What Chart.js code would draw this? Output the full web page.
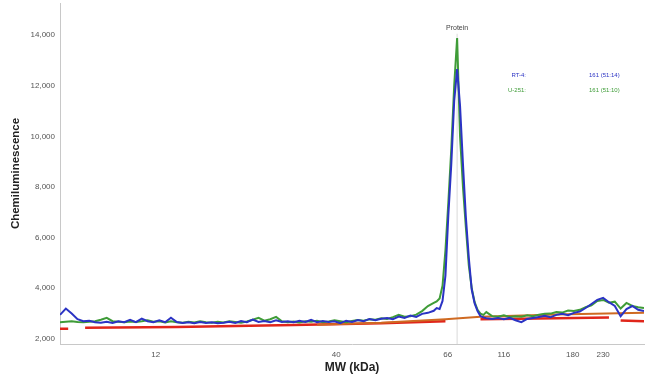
<!DOCTYPE html>
<html><head><meta charset="utf-8">
<script src="https://cdn.jsdelivr.net/npm/chart.js@4.4.1/dist/chart.umd.min.js"></script>
<style>html,body{margin:0;padding:0;background:#fff;}</style>
</head><body>
<canvas id="c" width="650" height="384"></canvas>
<script>
// ---- data ----
const tickPositions = [16.4, 47.3, 66.4, 76.0, 87.8, 93.0];
const tickLabels = ['12', '40', '66', '116', '180', '230'];
const yTicks = [2000, 4000, 6000, 8000, 10000, 12000, 14000];

const positions = [0,1,2,3,4,5,6,7,8,9,10,11,12,13,14,15,16,17,18,19,20,21,22,23,24,25,26,27,28,29,30,31,32,33,34,35,36,37,38,39,40,41,42,43,44,45,46,47,48,49,50,51,52,53,54,55,56,57,58,59,60,61,62,63,64,64.5,65,65.5,66,66.5,67,67.5,68,68.5,69,69.5,70,70.5,71,71.5,72,72.5,73,74,75,76,77,78,79,80,81,82,83,84,85,86,87,88,89,90,91,92,93,94,95,96,97,98,99,100];

const rt4 = [2950,3200,3000,2780,2700,2720,2660,2640,2680,2630,2700,2660,2750,2660,2800,2700,2660,2740,2660,2840,2670,2630,2660,2620,2670,2630,2660,2620,2640,2680,2630,2710,2660,2760,2670,2710,2660,2740,2670,2700,2660,2720,2670,2750,2660,2710,2670,2700,2620,2720,2670,2750,2700,2790,2740,2800,2830,2780,2880,2830,2920,2870,2990,3030,3110,3220,3180,3500,4500,6900,8900,11400,12650,11200,8900,6800,5200,3950,3400,3100,2900,2850,2820,2790,2830,2780,2830,2740,2660,2790,2830,2870,2910,2860,2950,2990,2940,3030,3080,3220,3380,3540,3620,3450,3300,2900,3180,3300,3150,3100];

const u251 = [2660,2680,2700,2670,2660,2680,2700,2760,2830,2700,2680,2660,2690,2670,2700,2740,2680,2700,2650,2700,2660,2640,2680,2650,2700,2660,2640,2680,2650,2700,2670,2640,2690,2760,2830,2720,2780,2870,2700,2660,2690,2650,2700,2680,2720,2660,2690,2740,2700,2660,2710,2750,2720,2780,2760,2820,2790,2860,2950,2880,2900,2960,3100,3300,3420,3480,3600,4100,5500,7400,9500,12000,13880,10000,8000,6400,4900,4000,3450,3150,3000,2950,3060,2900,2880,2930,2870,2900,2880,2930,2900,2960,2990,3000,3060,3040,3120,3100,3150,3250,3330,3500,3540,3430,3470,3200,3420,3300,3250,3220];

const baselineRedX = [0, 1.4, 1.5, 4.3, 20, 40, 55, 66, 66.1, 72, 85, 94, 94.1, 96, 100];
const baselineRedY = [2400, 2400, null, 2440, 2470, 2550, 2620, 2700, null, 2780, 2820, 2850, null, 2730, 2700];
const baselineOrangeX = [44, 55, 66, 72, 85, 100];
const baselineOrangeY = [2560, 2640, 2780, 2880, 2960, 3030];

const peakPosition = 68;
const peakLabel = 'Protein';
const legendNames = ['RT-4:', 'U-251:'];
const legendValues = ['161 (51:14)', '161 (51:10)'];

// ---- styles ----
const Y_MIN = 1800, Y_MAX = 15263;
const BLUE = '#2b33c4', GREEN = '#3f9c38', RED = '#e0261b', ORANGE = '#cf6a22';
const FONT = '"Liberation Sans", Arial, sans-serif';

const pts = (xs, ys) => xs.map((x, i) => ({x: x, y: ys[i]}));

const textPlugin = {
  id: 'texts',
  afterDatasetsDraw(chart) {
    const ctx = chart.ctx, xs = chart.scales.x;
    ctx.save();
    ctx.font = '7px ' + FONT;
    ctx.fillStyle = '#444';
    ctx.textAlign = 'center';
    ctx.textBaseline = 'middle';
    ctx.fillText(peakLabel, xs.getPixelForValue(peakPosition), chart.chartArea.top + 25);
    const colors = [BLUE, GREEN];
    ctx.font = '6px ' + FONT;
    legendNames.forEach((n, i) => {
      const y = chart.chartArea.top + 72 + i * 15;
      ctx.fillStyle = colors[i];
      ctx.textAlign = 'right';
      ctx.fillText(n, chart.chartArea.left + 466, y);
      ctx.textAlign = 'left';
      ctx.fillText(legendValues[i], chart.chartArea.left + 529, y);
    });
    ctx.restore();
  }
};

new Chart(document.getElementById('c'), {
  type: 'line',
  data: {
    datasets: [
      {label: 'RT-4', data: pts(positions, rt4), borderColor: BLUE, borderWidth: 2},
      {label: 'U-251', data: pts(positions, u251), borderColor: GREEN, borderWidth: 2},
      {label: 'baseline 2', data: pts(baselineOrangeX, baselineOrangeY), borderColor: ORANGE, borderWidth: 2},
      {label: 'baseline 1', data: pts(baselineRedX, baselineRedY), borderColor: RED, borderWidth: 2.5, spanGaps: false},
      {label: 'peak', data: [{x: peakPosition, y: Y_MIN}, {x: peakPosition, y: 14050}], borderColor: '#d9d9d9', borderWidth: 1}
    ]
  },
  options: {
    responsive: false,
    animation: false,
    devicePixelRatio: 1,
    elements: {point: {radius: 0}, line: {tension: 0, fill: false}},
    layout: {padding: {top: 3, right: 6, left: 0, bottom: 0}},
    plugins: {legend: {display: false}, tooltip: {enabled: false}},
    scales: {
      x: {
        type: 'linear', min: 0, max: 100,
        grid: {display: false, drawTicks: false},
        border: {display: true, color: '#c8c8c8', width: 1},
        afterBuildTicks: s => { s.ticks = tickPositions.map(v => ({value: v})); },
        afterFit: s => { s.height = 40; s.paddingLeft = 0; s.paddingRight = 0; },
        ticks: {
          autoSkip: false, maxRotation: 0, padding: 6,
          color: '#555', font: {family: FONT, size: 8},
          callback: (v, i) => tickLabels[i]
        },
        title: {display: true, text: 'MW (kDa)', color: '#222', font: {family: FONT, size: 12, weight: 'bold'}, padding: {top: 0, bottom: 9}}
      },
      y: {
        type: 'linear', min: Y_MIN, max: Y_MAX,
        grid: {display: false, drawTicks: false},
        border: {display: true, color: '#c8c8c8', width: 1},
        afterBuildTicks: s => { s.ticks = yTicks.map(v => ({value: v})); },
        afterFit: s => { s.width = 60; s.paddingTop = 0; s.paddingBottom = 0; },
        ticks: {
          padding: 5, color: '#555', font: {family: FONT, size: 8},
          callback: v => v.toLocaleString('en-US')
        },
        title: {display: true, text: 'Chemiluminescence', color: '#222', font: {family: FONT, size: 11.5, weight: 'bold'}, padding: {top: 9, bottom: 0}}
      }
    }
  },
  plugins: [textPlugin]
});
</script>
</body></html>
